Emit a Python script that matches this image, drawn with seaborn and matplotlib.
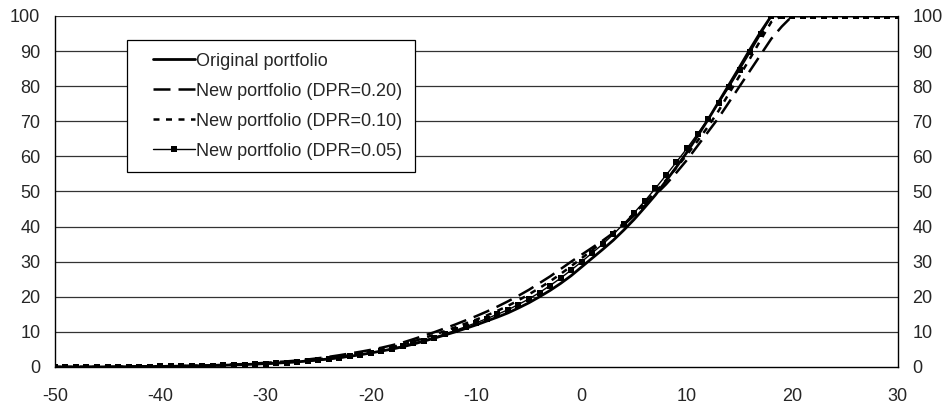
import numpy as np
import pandas as pd
import matplotlib
matplotlib.use("Agg")
import matplotlib.pyplot as plt
from matplotlib.lines import Line2D
from matplotlib.legend_handler import HandlerLine2D
import seaborn as sns

# x values (percent change), one point per unit
x_vals = list(range(-50, 31))

original = [0.0, 0.0, 0.0, 0.0, 0.02, 0.04, 0.06, 0.08, 0.1, 0.13,
            0.16, 0.2, 0.24, 0.29, 0.35, 0.42, 0.5, 0.6, 0.7, 0.82,
            0.95, 1.1, 1.27, 1.47, 1.72, 2.0, 2.3, 2.65, 3.05, 3.5,
            4.0, 4.55, 5.1, 5.75, 6.5, 7.35, 8.2, 9.1, 10.0, 11.0,
            12.0, 13.1, 14.2, 15.4, 16.8, 18.3, 20.0, 21.8, 23.8, 26.0,
            28.5, 31.0, 33.5, 36.1, 39.0, 42.1, 45.5, 49.0, 53.0, 57.0,
            61.2, 65.8, 70.5, 75.5, 80.5, 85.5, 90.6, 95.5, 100, 100,
            100, 100, 100, 100, 100, 100, 100, 100, 100, 100, 100]

dpr_20 = [0.0, 0.0, 0.01, 0.02, 0.04, 0.06, 0.08, 0.11, 0.14, 0.17,
          0.2, 0.24, 0.28, 0.33, 0.4, 0.5, 0.6, 0.72, 0.85, 1.0,
          1.2, 1.4, 1.6, 1.85, 2.15, 2.5, 2.9, 3.35, 3.85, 4.35,
          4.9, 5.5, 6.2, 6.95, 7.9, 8.9, 9.9, 11.0, 12.1, 13.3,
          14.5, 15.8, 17.2, 18.7, 20.3, 22.0, 23.9, 25.8, 27.9, 30.0,
          32.0, 34.0, 36.0, 38.2, 40.5, 43.2, 46.0, 49.0, 52.0, 55.4,
          59.0, 63.0, 67.0, 71.0, 75.5, 80.0, 84.5, 89.0, 93.5, 97.0,
          100, 100, 100, 100, 100, 100, 100, 100, 100, 100, 100]

dpr_10 = [0.0, 0.0, 0.0, 0.01, 0.03, 0.05, 0.07, 0.09, 0.12, 0.15,
          0.18, 0.22, 0.26, 0.31, 0.37, 0.44, 0.52, 0.62, 0.73, 0.85,
          1.0, 1.15, 1.33, 1.55, 1.82, 2.15, 2.5, 2.9, 3.35, 3.85,
          4.4, 5.0, 5.65, 6.4, 7.25, 8.2, 9.2, 10.2, 11.3, 12.4,
          13.5, 14.7, 16.0, 17.4, 19.0, 20.7, 22.5, 24.4, 26.5, 28.7,
          31.0, 33.3, 35.8, 38.3, 41.0, 43.8, 46.8, 49.9, 53.2, 56.8,
          60.5, 64.4, 68.5, 73.0, 78.0, 83.0, 88.0, 93.2, 98.3, 100,
          100, 100, 100, 100, 100, 100, 100, 100, 100, 100, 100]

dpr_05 = [0.0, 0.0, 0.0, 0.0, 0.02, 0.04, 0.06, 0.08, 0.1, 0.12,
          0.15, 0.18, 0.22, 0.27, 0.33, 0.4, 0.48, 0.57, 0.67, 0.78,
          0.9, 1.05, 1.2, 1.4, 1.65, 1.9, 2.2, 2.55, 3.0, 3.5,
          4.0, 4.6, 5.2, 5.9, 6.7, 7.5, 8.4, 9.4, 10.4, 11.5,
          12.6, 13.8, 15.0, 16.3, 17.8, 19.4, 21.2, 23.2, 25.3, 27.6,
          30.0, 32.5, 35.0, 37.8, 40.8, 44.0, 47.3, 50.9, 54.6, 58.4,
          62.3, 66.4, 70.7, 75.2, 79.8, 84.7, 89.7, 94.8, 100, 100,
          100, 100, 100, 100, 100, 100, 100, 100, 100, 100, 100]

labels = ["Original portfolio", "New portfolio (DPR=0.20)",
          "New portfolio (DPR=0.10)", "New portfolio (DPR=0.05)"]

x_ticks = [-50, -40, -30, -20, -10, 0, 10, 20, 30]
y_ticks = [0, 10, 20, 30, 40, 50, 60, 70, 80, 90, 100]

sns.set_style("white")
plt.rcParams['font.family'] = ['Liberation Sans', 'DejaVu Sans']
plt.rcParams['axes.unicode_minus'] = False

FS = 13

fig = plt.figure(figsize=(9.46, 4.04), dpi=100)
ax = fig.add_axes([0.058, 0.0916, 0.891, 0.869])

# horizontal grid
for yv in y_ticks[1:]:
    ax.axhline(yv, color='#333333', lw=0.9, zorder=0)

sns.lineplot(x=x_vals, y=original, ax=ax, color='black', lw=2.0,
             label=labels[0], zorder=3)
sns.lineplot(x=x_vals, y=dpr_20, ax=ax, color='black', lw=1.8,
             label=labels[1], zorder=3)
ax.lines[-1].set_dashes((6.8, 3.2))
sns.lineplot(x=x_vals, y=dpr_10, ax=ax, color='black', lw=1.8,
             label=labels[2], zorder=3)
ax.lines[-1].set_dashes((2.4, 2.6))
sns.lineplot(x=x_vals, y=dpr_05, ax=ax, color='black', lw=1.0,
             marker='s', markersize=4, markeredgewidth=0,
             label=labels[3], zorder=4)

ax.set_xlim(-50, 30)
ax.set_ylim(0, 100)
ax.set_xticks(x_ticks)
ax.set_yticks(y_ticks)
ax.tick_params(axis='x', direction='in', length=5, width=0.8, color='black',
               labelsize=FS, pad=15)
ax.tick_params(axis='y', length=0, labelsize=FS, labelright=True, pad=10.5)

for side in ['left', 'right', 'bottom']:
    ax.spines[side].set_color('black')
    ax.spines[side].set_linewidth(1.0)
ax.spines['top'].set_visible(False)

handles, lbls = ax.get_legend_handles_labels()
leg = ax.legend(handles, lbls, loc='upper left', bbox_to_anchor=(0.0854, 0.9316),
                borderaxespad=0, frameon=True, fancybox=False, shadow=False,
                fontsize=FS, handlelength=3.05, handletextpad=0.1,
                labelspacing=0.72, borderpad=0.7,
                handler_map={Line2D: HandlerLine2D(xpad=0.75)})
leg.get_frame().set_edgecolor('black')
leg.get_frame().set_linewidth(0.9)
leg.get_frame().set_alpha(1)

fig.savefig("out.png", dpi=100)
